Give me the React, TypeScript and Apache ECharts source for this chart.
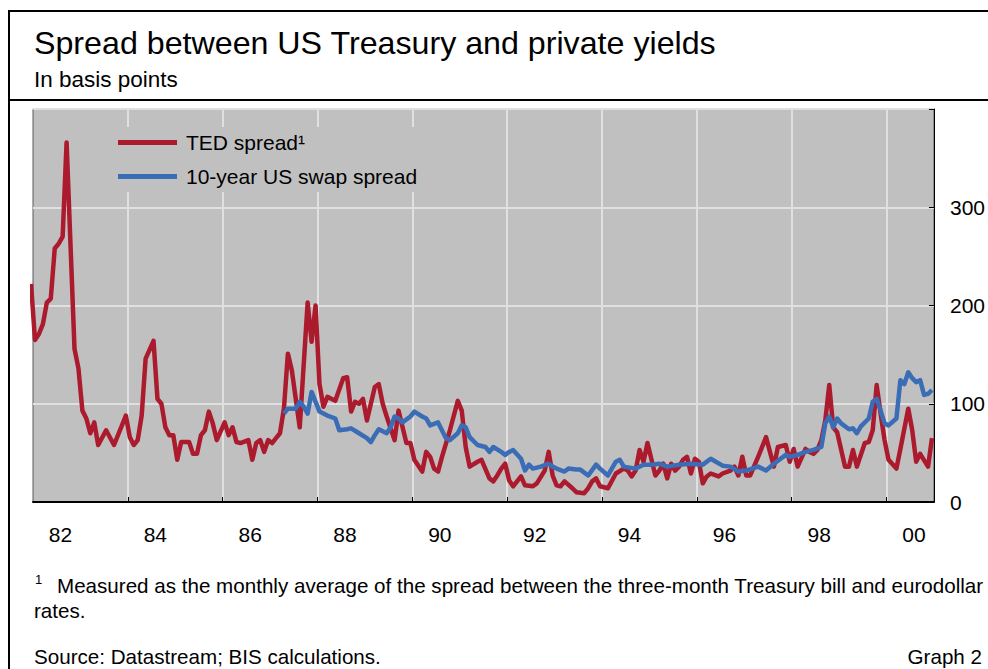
import React, { useEffect, useRef } from 'react';
import * as echarts from 'echarts';

// Months counted from January 1982 (0 = Jan 1982); values in basis points
const TED_MONTH = [
  -1, 0, 1, 2, 3, 4, 5, 6, 7, 8, 10, 11, 12, 13, 14, 15, 16, 18, 20, 23, 24, 25, 26, 27, 28, 30,
  31, 32, 33, 34, 35, 36, 37, 39, 40, 41, 42, 43, 44, 45, 46, 48, 49, 50, 51, 52, 54, 55, 56, 57,
  58, 59, 60, 61, 62, 63, 64, 65, 67, 69, 70, 71, 72, 73, 74, 75, 76, 78, 79, 80, 81, 82, 83, 84,
  86, 87, 88, 89, 91, 92, 94, 95, 96, 98, 99, 100, 101, 102, 103, 105, 106, 107, 108, 109, 110,
  112, 113, 115, 116, 117, 118, 119, 120, 121, 122, 123, 124, 126, 127, 129, 130, 131, 132, 133,
  134, 136, 137, 139, 140, 141, 142, 143, 145, 147, 149, 150, 151, 152, 153, 154, 155, 157, 158,
  159, 160, 161, 162, 163, 164, 165, 166, 167, 168, 169, 170, 171, 173, 174, 176, 177, 178, 179,
  180, 181, 183, 185, 187, 188, 190, 191, 192, 193, 195, 196, 197, 198, 199, 200, 201, 202, 203,
  205, 206, 207, 208, 210, 211, 212, 213, 214, 215, 216, 218, 219, 221, 222, 223, 224, 226, 227,
];
const TED_BP = [
  222, 165, 171, 181, 203, 207, 258, 263, 270, 366, 156, 136, 93, 85, 70, 81, 58, 73, 58, 88, 66, 58, 63, 88, 146, 164,
  105, 100, 76, 68, 68, 43, 61, 61, 49, 49, 68, 73, 92, 80, 63, 81, 68, 76, 61, 60, 63, 43, 60, 63,
  51, 63, 60, 65, 70, 95, 151, 134, 76, 203, 163, 200, 120, 97, 107, 105, 103, 126, 127, 92, 102, 100, 105, 83,
  117, 120, 100, 87, 63, 93, 60, 60, 43, 31, 51, 46, 34, 31, 46, 73, 88, 103, 93, 56, 36,
  41, 43, 24, 21, 27, 34, 39, 22, 16, 21, 26, 17, 16, 19, 32, 51, 27, 17, 16,
  21, 14, 10, 9, 14, 21, 24, 16, 14, 29, 34, 32, 26, 32, 53, 41, 60, 27, 32,
  39, 24, 39, 32, 36, 43, 46, 29, 44, 41, 19, 26, 29, 26, 29, 32, 36, 27, 46,
  27, 27, 46, 66, 36, 56, 58, 41, 54, 36, 54, 51, 49, 53, 63, 83, 119, 76, 71,
  36, 36, 53, 36, 60, 61, 73, 119, 90, 63, 43, 34, 54, 95, 73, 41, 49, 36, 65,
];

const SWAP_MONTH = [
  63, 64, 66, 67, 68, 69, 70, 72, 74, 76, 77, 79, 80, 82, 84, 85, 86, 87, 89, 90, 91, 92, 93, 95,
  96, 98, 99, 100, 102, 104, 105, 107, 108, 109, 110, 112, 114, 115, 116, 118, 119, 120, 121, 123,
  124, 125, 126, 128, 130, 131, 132, 134, 135, 137, 138, 140, 142, 143, 145, 147, 148, 149, 152,
  154, 156, 158, 160, 163, 166, 169, 171, 174, 176, 178, 180, 183, 185, 187, 190, 191, 193, 195,
  197, 199, 200, 201, 202, 203, 204, 206, 207, 208, 209, 211, 212, 213, 214, 215, 216, 218, 219,
  220, 221, 222, 223, 224, 225, 226, 227,
];
const SWAP_BP = [
  90, 95, 95, 102, 97, 90, 112, 92, 88, 85, 73, 74, 75, 70, 65, 61, 68, 74, 70, 76, 87, 85, 81, 87,
  92, 87, 85, 78, 81, 65, 63, 70, 78, 76, 66, 58, 56, 51, 56, 51, 48, 51, 53, 44,
  32, 38, 34, 36, 39, 36, 34, 31, 34, 33, 33, 27, 38, 34, 27, 41, 43, 36, 34,
  38, 38, 39, 36, 38, 39, 38, 44, 37, 36, 31, 32, 36, 32, 39, 48, 46, 48, 51,
  53, 56, 80, 87, 76, 85, 80, 74, 75, 70, 77, 85, 102, 105, 93, 80, 78, 85, 124,
  120, 132, 126, 122, 124, 109, 110, 114,
];

const LABEL_YEARS = [1982, 1984, 1986, 1988, 1990, 1992, 1994, 1996, 1998, 2000];
const TICK_YEARS = [1984, 1986, 1988, 1990, 1992, 1994, 1996, 1998, 2000];
const Y_LABELS = [0, 100, 200, 300];

const SERIES_NAMES = ['TED spread\u00B9', '10-year US swap spread'];

const monthToYear = (m: number) => 1982 + (m + 0.5) / 12;

const FONT = '"Liberation Sans", Arial, Helvetica, sans-serif';

export default function App() {
  const ref = useRef<HTMLDivElement>(null);

  useEffect(() => {
    if (!ref.current) return;
    const chart = echarts.init(ref.current, null, { renderer: 'svg' });
    const ted = TED_MONTH.map((m, i) => [monthToYear(m), TED_BP[i]]);
    const swap = SWAP_MONTH.map((m, i) => [monthToYear(m), SWAP_BP[i]]);

    chart.setOption({
      animation: false,
      backgroundColor: '#ffffff',
      textStyle: { fontFamily: FONT },
      grid: {
        left: 33,
        right: 51,
        top: 109,
        bottom: 167,
        show: true,
        backgroundColor: '#c0c0c0',
        borderColor: '#5a5a5a',
        borderWidth: 1,
      },
      legend: {
        data: SERIES_NAMES,
        orient: 'vertical',
        left: 113,
        top: 127,
        padding: [5, 10, 5, 5],
        backgroundColor: '#c0c0c0',
        icon: 'rect',
        itemWidth: 59,
        itemHeight: 5,
        itemGap: 13,
        textStyle: { fontSize: 21, color: '#000', fontFamily: FONT, padding: [0, 0, 0, 4] },
      },
      xAxis: {
        type: 'value',
        min: 1982,
        max: 2001,
        interval: 2,
        axisLine: { show: true, onZero: false, lineStyle: { color: '#000', width: 2 } },
        axisTick: {
          show: true,
          inside: true,
          length: 5,
          customValues: TICK_YEARS,
          lineStyle: { color: '#000', width: 1 },
        },
        axisLabel: {
          customValues: LABEL_YEARS.map((y) => y + 0.58),
          formatter: (v: number) => String(Math.floor(v)).slice(2),
          fontSize: 21,
          color: '#000',
          margin: 22,
          fontFamily: FONT,
        },
        splitLine: { show: true, lineStyle: { color: '#e0e0e0', width: 2 } },
      },
      yAxis: {
        type: 'value',
        position: 'right',
        min: 0,
        max: 400,
        interval: 100,
        axisLine: { show: true, lineStyle: { color: '#000', width: 1 } },
        axisTick: { show: true, inside: true, length: 5, lineStyle: { color: '#000' } },
        axisLabel: {
          fontSize: 21,
          color: '#000',
          margin: 16,
          fontFamily: FONT,
          formatter: (v: number) => (Y_LABELS.indexOf(v) >= 0 ? String(v) : ''),
        },
        splitLine: { show: true, lineStyle: { color: '#e0e0e0', width: 2 } },
      },
      series: [
        {
          name: SERIES_NAMES[0],
          type: 'line',
          data: ted,
          showSymbol: false,
          clip: true,
          lineStyle: { color: '#ab1a2d', width: 4.5, join: 'round' },
          itemStyle: { color: '#ab1a2d' },
        },
        {
          name: SERIES_NAMES[1],
          type: 'line',
          data: swap,
          showSymbol: false,
          clip: true,
          lineStyle: { color: '#3a6db6', width: 4.5, join: 'round' },
          itemStyle: { color: '#3a6db6' },
        },
      ],
      graphic: [
        { type: 'line', shape: { x1: 9, y1: 11, x2: 988, y2: 11 }, style: { stroke: '#000', lineWidth: 2 } },
        { type: 'line', shape: { x1: 9, y1: 10, x2: 9, y2: 669 }, style: { stroke: '#000', lineWidth: 2 } },
        { type: 'line', shape: { x1: 9, y1: 100, x2: 988, y2: 100 }, style: { stroke: '#000', lineWidth: 2 } },
        {
          type: 'text',
          x: 34,
          y: 43,
          style: {
            text: 'Spread between US Treasury and private yields',
            font: `32.2px ${FONT}`,
            fill: '#000',
            verticalAlign: 'middle',
          },
        },
        {
          type: 'text',
          x: 34,
          y: 79,
          style: { text: 'In basis points', font: `22.5px ${FONT}`, fill: '#000', verticalAlign: 'middle' },
        },
        {
          type: 'text',
          x: 35,
          y: 579,
          style: { text: '1', font: `13px ${FONT}`, fill: '#000', verticalAlign: 'middle' },
        },
        {
          type: 'text',
          x: 57,
          y: 585,
          style: {
            text: 'Measured as the monthly average of the spread between the three-month Treasury bill and eurodollar',
            font: `20.6px ${FONT}`,
            fill: '#000',
            verticalAlign: 'middle',
          },
        },
        {
          type: 'text',
          x: 34,
          y: 610,
          style: { text: 'rates.', font: `20.6px ${FONT}`, fill: '#000', verticalAlign: 'middle' },
        },
        {
          type: 'text',
          x: 34,
          y: 656,
          style: { text: 'Source: Datastream; BIS calculations.', font: `20.6px ${FONT}`, fill: '#000', verticalAlign: 'middle' },
        },
        {
          type: 'text',
          x: 982,
          y: 656,
          style: { text: 'Graph 2', font: `20.6px ${FONT}`, fill: '#000', align: 'right', verticalAlign: 'middle' },
        },
      ],
    });

    return () => chart.dispose();
  }, []);

  return <div ref={ref} style={{ position: 'fixed', left: 0, top: 0, width: 988, height: 669 }} />;
}
